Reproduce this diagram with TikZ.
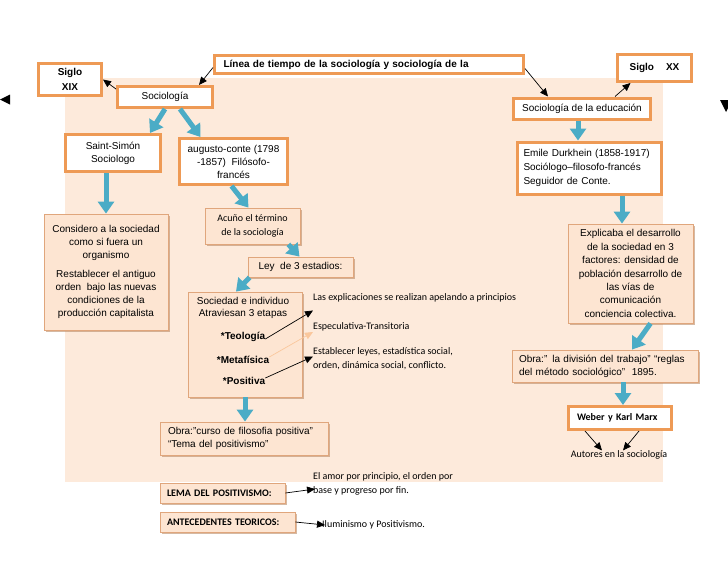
\documentclass[tikz,border=0pt]{standalone}
\usepackage{fontspec}
\setmainfont{Liberation Sans}
\newfontfamily\calfont{Carlito}
\usetikzlibrary{arrows.meta,shadows,calc}
\definecolor{bgpeach}{HTML}{FDEADB}
\definecolor{obord}{HTML}{EE9A55}
\definecolor{pfill}{HTML}{FDE5D2}
\definecolor{pbord}{HTML}{E0A67C}
\definecolor{pshadow}{HTML}{B98A66}
\definecolor{blu}{HTML}{4BACC6}
\definecolor{lorange}{HTML}{FAC79C}
\begin{document}
\begin{tikzpicture}[x=1pt,y=-1pt,
  txt/.style={font=\fontsize{10pt}{13.5pt}\selectfont, inner sep=0pt, align=center},
  ctxt/.style={font=\calfont\fontsize{10pt}{13.5pt}\selectfont, inner sep=0pt, align=left},
  obox/.style={draw=obord, line width=3pt, fill=white, inner sep=0pt, align=center, font=\fontsize{10pt}{13.5pt}\selectfont},
  pbox/.style={draw=pbord, line width=0.8pt, fill=pfill, inner sep=0pt, align=center, font=\fontsize{10pt}{13.5pt}\selectfont, drop shadow={shadow xshift=1.8pt, shadow yshift=-1.8pt, fill=pshadow, opacity=0.6}},
  barr/.style={draw=blu, line width=5pt, -{Triangle[length=12pt,width=16pt]}},
  karr/.style={draw=black, line width=0.7pt, -{Triangle[length=8pt,width=7pt]}},
]
\useasboundingbox (0,0) rectangle (728,563);
\fill[bgpeach] (65,78) rectangle (663,482);
% edge triangles
\fill (0,99.5) -- (10,94.5) -- (10,104.5) -- cycle;
\fill (720,100) -- (732,100) -- (726,112) -- cycle;

% top boxes
\node[obox, minimum width=309pt, minimum height=18pt, text width=291pt, align=left, font=\bfseries\fontsize{10pt}{12pt}\selectfont] (title) at (369,64.5) {Línea de tiempo de la sociología y sociología de la};
\node[obox, minimum width=63pt, minimum height=32pt, font=\bfseries\fontsize{10pt}{15pt}\selectfont] (sxix) at (70,79.5) {Siglo\\XIX};
\node[obox, minimum width=95pt, minimum height=21pt] (soc) at (165,97) {Sociología};
\node[obox, minimum width=74pt, minimum height=27pt, font=\bfseries\fontsize{10pt}{12pt}\selectfont] (sxx) at (654.5,68) {Siglo\hspace{12pt}XX};
\node[obox, minimum width=137pt, minimum height=21pt] (socedu) at (582,108.5) {Sociología de la educación};
\node[obox, minimum width=95pt, minimum height=37pt, font=\fontsize{10pt}{13pt}\selectfont] (saint) at (113,153) {Saint-Simón\\Sociologo};
\node[obox, minimum width=108pt, minimum height=46pt, font=\fontsize{10pt}{13pt}\selectfont] (comte) at (233.5,161.5) {augusto-conte (1798\\-1857)\ \ Filósofo-\\francés};
\node[obox, minimum width=144pt, minimum height=52pt, text width=132pt, align=left, font=\fontsize{10pt}{14pt}\selectfont] (emile) at (589.5,168) {Emile Durkhein (1858-1917)\\Sociólogo–filosofo-francés\\Seguidor de Conte.};

% peach boxes
\node[pbox, minimum width=124pt, minimum height=116pt, font=\fontsize{10pt}{13.3pt}\selectfont] (cons) at (106,272) {Considero a la sociedad\\como si fuera un\\organismo\\[5pt]Restablecer el antiguo\\orden\ \ bajo las nuevas\\condiciones de la\\producción capitalista};
\node[pbox, minimum width=95pt, minimum height=36pt, font=\calfont\fontsize{10pt}{14pt}\selectfont] (acuno) at (252.5,226) {Acuño el término\\de la sociología};
\node[pbox, minimum width=105pt, minimum height=20pt] (ley) at (300.5,267) {Ley\ \ de 3 estadios:};
\node[pbox, minimum width=114pt, minimum height=105pt] (soci) at (245,344.5) {};
\node[txt, font=\fontsize{10pt}{12.5pt}\selectfont] (socitxt) at (243,308) {Sociedad e individuo\\Atraviesan 3 etapas};
\node[txt, font=\bfseries\fontsize{10pt}{12pt}\selectfont] (teo) at (243,337) {*Teología};
\node[txt, font=\bfseries\fontsize{10pt}{12pt}\selectfont] (meta) at (243,360) {*Metafísica};
\node[txt, font=\bfseries\fontsize{10pt}{12pt}\selectfont] (posi) at (244,381) {*Positiva};
\node[pbox, minimum width=125pt, minimum height=99pt, font=\fontsize{10pt}{13.4pt}\selectfont] (explb) at (630.5,273.5) {Explicaba el desarrollo\\de la sociedad en 3\\factores: densidad de\\población desarrollo de\\las vías de\\comunicación\\conciencia colectiva.};
\node[pbox, minimum width=186pt, minimum height=32pt, text width=172pt, align=left, font=\fontsize{10pt}{13pt}\selectfont] (obrad) at (605,366) {Obra:” la división del trabajo” “reglas\\del método sociológico”\ \ 1895.};
\node[obox, minimum width=103pt, minimum height=23pt, text width=86pt, align=left, font=\calfont\bfseries\fontsize{10pt}{12pt}\selectfont] (weber) at (620,418) {Weber y Karl Marx};
\node[ctxt] (autores) at (619,455) {Autores en la sociología};
\node[pbox, minimum width=168pt, minimum height=33pt, text width=152pt, align=left, font=\fontsize{10pt}{13pt}\selectfont] (obrac) at (244,438.5) {Obra:”curso de filosofia positiva”\\“Tema del positivismo”};
\node[pbox, minimum width=125pt, minimum height=20pt, text width=111pt, align=left, font=\calfont\bfseries\fontsize{10pt}{12pt}\selectfont] (lema) at (222.5,493) {LEMA DEL POSITIVISMO:};
\node[pbox, minimum width=135pt, minimum height=20pt, text width=121pt, align=left, font=\calfont\bfseries\fontsize{10pt}{12pt}\selectfont] (ant) at (227.5,522) {ANTECEDENTES TEORICOS:};

% free texts
\node[ctxt, anchor=west] (expl) at (313,298) {Las explicaciones se realizan apelando a principios};
\node[ctxt, anchor=west] (espec) at (313,327) {Especulativa-Transitoria};
\node[ctxt, anchor=west, font=\calfont\fontsize{10pt}{14pt}\selectfont] (estab) at (313,358.5) {Establecer leyes, estadística social,\\orden, dinámica social, conflicto.};
\node[ctxt, anchor=west, font=\calfont\fontsize{10pt}{14pt}\selectfont] (amor) at (313,484) {El amor por principio, el orden por\\base y progreso por fin.};
\node[ctxt, anchor=west] (ilum) at (322,525) {Iluminismo y Positivismo.};

% black arrows
\draw[karr] ([yshift=-3pt]title.west) -- ([xshift=34pt]soc.north);
\draw[karr] ([yshift=-4pt]soc.north west) -- (sxix.east);
\draw[karr] ([yshift=-4pt]title.east) -- ([xshift=-34pt]socedu.north);
\draw[karr] ([xshift=33pt]socedu.north) -- ([xshift=-24pt]sxx.south);
\draw[karr] ([yshift=-2pt]teo.east) -- ([yshift=-8pt]expl.south west);
\draw[karr, draw=lorange] ([yshift=3pt]meta.east) -- ([yshift=-5pt]espec.west);
\draw[karr] ([yshift=3pt]posi.east) -- ([yshift=2pt]estab.west);
\draw[karr] ([xshift=-35pt]weber.south) -- ([xshift=-17pt]autores.north);
\draw[karr] ([xshift=19pt]weber.south) -- ([xshift=4pt]autores.north);
\draw[karr] (lema.east) -- ([shift={(2pt,-5pt)}]amor.west);
\draw[karr] (ant.east) -- ([xshift=3pt]ilum.west);

% blue arrows
\coordinate (sd) at ([xshift=-4pt]socedu.south);
\coordinate (es) at ([xshift=32.5pt]emile.south);
\coordinate (os) at ([xshift=18pt]obrad.south);
\draw[barr] (soc.south) -- ([xshift=37pt]saint.north);
\draw[barr] ([xshift=15pt]soc.south) -- ([xshift=-33pt]comte.north);
\draw[barr] (cons.north |- saint.south) -- (cons.north);
\draw[barr] ([xshift=-2pt]comte.south) -- ([xshift=-4pt]acuno.north);
\draw[barr] ([xshift=-12pt]acuno.south east) -- ([xshift=-1pt]ley.north);
\draw[barr] ([xshift=2pt]ley.south west) -- ([xshift=-9pt]soci.north);
\draw[barr] (soci.south) -- (soci.south |- obrac.north);
\draw[barr] (sd) -- (sd |- emile.north);
\draw[barr] (es) -- (es |- explb.north);
\draw[barr] ([xshift=20pt]explb.south) -- ([xshift=27pt]obrad.north);
\draw[barr] (os) -- (os |- weber.north);
\end{tikzpicture}
\end{document}
